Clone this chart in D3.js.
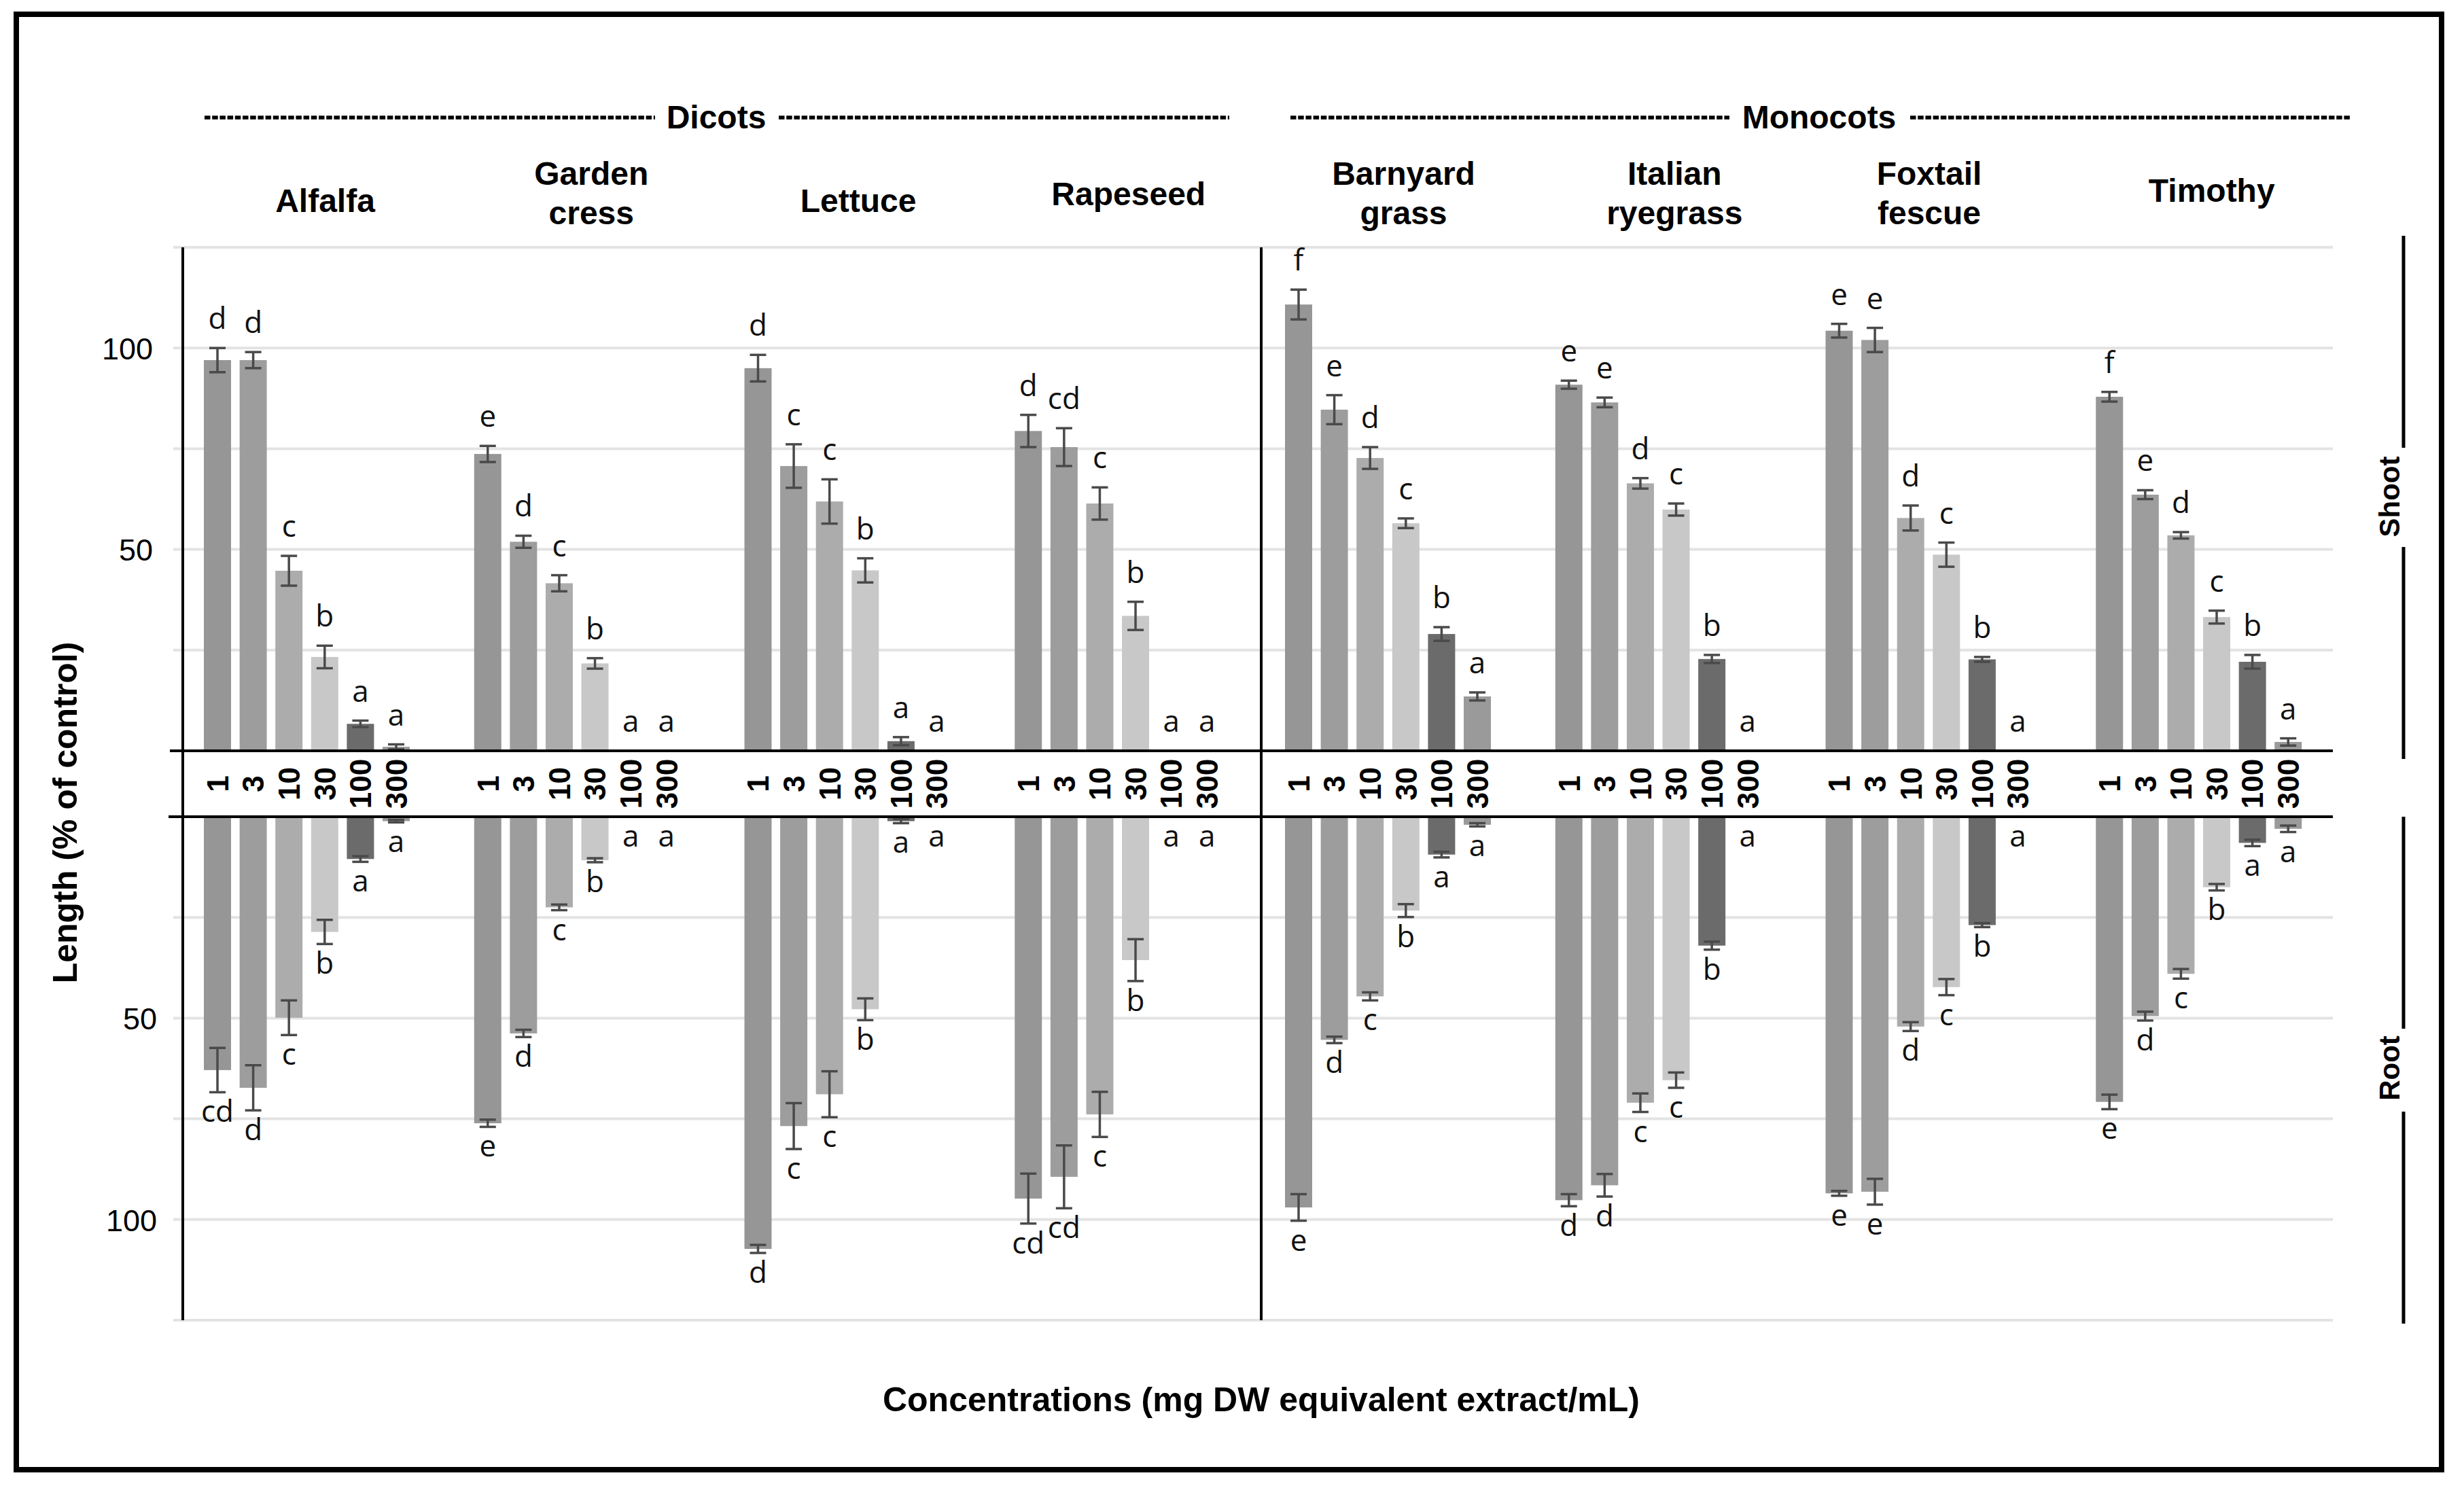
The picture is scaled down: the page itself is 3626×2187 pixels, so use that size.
<!DOCTYPE html>
<html>
<head>
<meta charset="utf-8">
<script src="https://cdn.jsdelivr.net/npm/d3@7/dist/d3.min.js"></script>
<style>
  html, body { margin: 0; padding: 0; background: #fff; }
  svg { display: block; }
</style>
</head>
<body>
<svg id="chart" width="3626" height="2187"></svg>
<script>
// ---------------- DATA ----------------
const species = ["Alfalfa", "Garden cress", "Lettuce", "Rapeseed",
                 "Barnyard grass", "Italian ryegrass", "Foxtail fescue", "Timothy"];
const speciesLines = [["Alfalfa"], ["Garden", "cress"], ["Lettuce"], ["Rapeseed"],
                      ["Barnyard", "grass"], ["Italian", "ryegrass"], ["Foxtail", "fescue"], ["Timothy"]];
const groups = ["Dicots", "Monocots"];
const concentrations = ["1", "3", "10", "30", "100", "300"];

const shootMean = [
  [97.0, 97.0, 44.7, 23.3, 6.7, 1.0],
  [73.7, 51.9, 41.6, 21.7, 0, 0],
  [95.0, 70.7, 61.9, 44.8, 2.4, 0],
  [79.4, 75.4, 61.4, 33.5, 0, 0],
  [110.8, 84.7, 72.7, 56.5, 29.0, 13.5],
  [90.9, 86.5, 66.4, 59.9, 22.8, 0],
  [104.3, 102.0, 57.8, 48.7, 22.7, 0],
  [87.9, 63.6, 53.5, 33.2, 22.1, 2.2]
];
const shootErr = [
  [3.0, 2.0, 3.7, 2.8, 0.8, 0.6],
  [2.0, 1.5, 2.0, 1.3, 0, 0],
  [3.3, 5.4, 5.5, 3.0, 1.0, 0],
  [4.0, 4.7, 4.0, 3.5, 0, 0],
  [3.7, 3.6, 2.7, 1.2, 1.7, 1.0],
  [1.0, 1.2, 1.3, 1.5, 1.0, 0],
  [1.7, 3.0, 3.1, 3.0, 0.6, 0],
  [1.2, 1.1, 0.8, 1.6, 1.7, 0.9]
];
const shootLetters = [
  ["d", "d", "c", "b", "a", "a"],
  ["e", "d", "c", "b", "a", "a"],
  ["d", "c", "c", "b", "a", "a"],
  ["d", "cd", "c", "b", "a", "a"],
  ["f", "e", "d", "c", "b", "a"],
  ["e", "e", "d", "c", "b", "a"],
  ["e", "e", "d", "c", "b", "a"],
  ["f", "e", "d", "c", "b", "a"]
];
const rootMean = [
  [62.9, 67.3, 49.9, 28.6, 10.5, 1.1],
  [76.1, 53.8, 22.5, 10.8, 0, 0],
  [107.3, 76.8, 68.9, 47.8, 1.1, 0],
  [94.8, 89.4, 73.9, 35.6, 0, 0],
  [97.0, 55.4, 44.6, 23.3, 9.4, 2.0],
  [95.2, 91.5, 71.0, 65.4, 32.0, 0],
  [93.5, 93.1, 52.1, 42.3, 26.9, 0],
  [70.8, 49.5, 39.0, 17.5, 6.5, 3.0]
];
const rootErr = [
  [5.5, 5.6, 4.3, 3.0, 0.7, 0.3],
  [0.9, 0.9, 0.7, 0.5, 0, 0],
  [1.0, 5.7, 5.7, 2.7, 0.5, 0],
  [6.2, 7.8, 5.6, 5.2, 0, 0],
  [3.3, 0.8, 1.0, 1.6, 0.7, 0.4],
  [1.5, 2.8, 2.3, 1.9, 1.0, 0],
  [0.6, 3.2, 1.1, 2.0, 0.5, 0],
  [1.8, 1.1, 1.2, 0.8, 0.8, 0.8]
];
const rootLetters = [
  ["cd", "d", "c", "b", "a", "a"],
  ["e", "d", "c", "b", "a", "a"],
  ["d", "c", "c", "b", "a", "a"],
  ["cd", "cd", "c", "b", "a", "a"],
  ["e", "d", "c", "b", "a", "a"],
  ["d", "d", "c", "c", "b", "a"],
  ["e", "e", "d", "c", "b", "a"],
  ["e", "d", "c", "b", "a", "a"]
];
const gridTicks = [25, 50, 75, 100, 125];
const labelTicks = [50, 100];

// ---------------- LAYOUT ----------------
const W = 3626, H = 2187;
const svg = d3.select("#chart").attr("viewBox", `0 0 ${W} ${H}`);
svg.append("rect").attr("width", W).attr("height", H).attr("fill", "#fff");

const barColors = ["#969696", "#9d9d9d", "#acacac", "#c8c8c8", "#6b6b6b", "#9a9a9a"];
const errColor = "#4a4a4a";
const SANS = "'Liberation Sans', Arial, sans-serif";
const LETTER_FONT = "'Open Sans', 'Noto Sans', sans-serif";

const gx = d3.scaleBand().domain(species).range([270, 270 + 8 * 397.75]);
const bx = d3.scaleBand().domain(concentrations).range([23.7, 339.3])
  .paddingInner(0.24).paddingOuter(0.12);
const yShoot = d3.scaleLinear().domain([0, 125]).range([1105, 364]);
const yRoot = d3.scaleLinear().domain([0, 125]).range([1202, 1943]);

const gridX0 = 255, gridX1 = 3433;
const axisX = 269;

// frame
svg.append("rect").attr("x", 24).attr("y", 21).attr("width", 3569).attr("height", 2142)
  .attr("fill", "none").attr("stroke", "#000").attr("stroke-width", 8);

// gridlines
const grid = svg.append("g");
[yShoot, yRoot].forEach(y => {
  grid.selectAll(null).data(gridTicks).enter().append("line")
    .attr("x1", gridX0).attr("x2", gridX1)
    .attr("y1", d => y(d)).attr("y2", d => y(d))
    .attr("stroke", "#e3e3e3").attr("stroke-width", 4);
});

// bars
const flat = [];
species.forEach((s, i) => concentrations.forEach((c, j) => {
  flat.push({ s, c, i, j,
    sm: shootMean[i][j], se: shootErr[i][j], sl: shootLetters[i][j],
    rm: rootMean[i][j], re: rootErr[i][j], rl: rootLetters[i][j] });
}));
const cx = d => gx(d.s) + bx(d.c) + bx.bandwidth() / 2;

const bars = svg.append("g");
bars.selectAll(".sbar").data(flat).enter().append("rect")
  .attr("x", d => gx(d.s) + bx(d.c)).attr("width", bx.bandwidth())
  .attr("y", d => yShoot(d.sm)).attr("height", d => yShoot(0) - yShoot(d.sm))
  .attr("fill", d => barColors[d.j]);
bars.selectAll(".rbar").data(flat).enter().append("rect")
  .attr("x", d => gx(d.s) + bx(d.c)).attr("width", bx.bandwidth())
  .attr("y", yRoot(0)).attr("height", d => yRoot(d.rm) - yRoot(0))
  .attr("fill", d => barColors[d.j]);

// error bars
const eb = svg.append("g").attr("stroke", errColor).attr("stroke-width", 3.5);
const capW = 12;
flat.filter(d => d.se > 0).forEach(d => {
  const x = cx(d), y1 = yShoot(d.sm + d.se), y2 = yShoot(d.sm - d.se);
  eb.append("line").attr("x1", x).attr("x2", x).attr("y1", y1).attr("y2", y2);
  eb.append("line").attr("x1", x - capW).attr("x2", x + capW).attr("y1", y1).attr("y2", y1);
  eb.append("line").attr("x1", x - capW).attr("x2", x + capW).attr("y1", y2).attr("y2", y2);
});
flat.filter(d => d.re > 0).forEach(d => {
  const x = cx(d), y1 = yRoot(d.rm - d.re), y2 = yRoot(d.rm + d.re);
  eb.append("line").attr("x1", x).attr("x2", x).attr("y1", y1).attr("y2", y2);
  eb.append("line").attr("x1", x - capW).attr("x2", x + capW).attr("y1", y1).attr("y2", y1);
  eb.append("line").attr("x1", x - capW).attr("x2", x + capW).attr("y1", y2).attr("y2", y2);
});

// significance letters
const lt = svg.append("g").attr("font-family", LETTER_FONT).attr("font-size", 44)
  .attr("fill", "#111").attr("text-anchor", "middle");
lt.selectAll(".sl").data(flat).enter().append("text")
  .attr("x", cx).attr("y", d => yShoot(d.sm + d.se) - 28).text(d => d.sl);
lt.selectAll(".rl").data(flat).enter().append("text")
  .attr("x", cx).attr("y", d => yRoot(d.rm + d.re) + 44).text(d => d.rl);

// baselines
svg.append("line").attr("x1", 250).attr("x2", gridX1).attr("y1", yShoot(0)).attr("y2", yShoot(0))
  .attr("stroke", "#000").attr("stroke-width", 4);
svg.append("line").attr("x1", 248).attr("x2", gridX1).attr("y1", yRoot(0)).attr("y2", yRoot(0))
  .attr("stroke", "#000").attr("stroke-width", 4);

// y axis line and divider
svg.append("line").attr("x1", axisX).attr("x2", axisX).attr("y1", yShoot(125)).attr("y2", yRoot(125))
  .attr("stroke", "#000").attr("stroke-width", 4);
const divX = gx("Barnyard grass") - 5;
svg.append("line").attr("x1", divX).attr("x2", divX).attr("y1", yShoot(125)).attr("y2", yRoot(125))
  .attr("stroke", "#000").attr("stroke-width", 4);

// concentration labels between baselines
const midY = (yShoot(0) + yRoot(0)) / 2;
svg.append("g").selectAll("text").data(flat).enter().append("text")
  .attr("transform", d => `translate(${cx(d)},${midY}) rotate(-90)`)
  .attr("dy", "0.36em").attr("text-anchor", "middle")
  .attr("font-family", SANS).attr("font-weight", "bold").attr("font-size", 44)
  .attr("fill", "#000").text(d => d.c);

// y tick labels
const shootAxis = svg.append("g").attr("transform", `translate(${axisX},0)`)
  .call(d3.axisLeft(yShoot).tickValues(labelTicks).tickSize(0).tickPadding(44));
const rootAxis = svg.append("g").attr("transform", `translate(${axisX},0)`)
  .call(d3.axisLeft(yRoot).tickValues(labelTicks).tickSize(0).tickPadding(38));
[shootAxis, rootAxis].forEach(a => {
  a.select(".domain").remove();
  a.selectAll("text").attr("font-family", SANS).attr("font-size", 45).attr("fill", "#000")
    .attr("dy", "0.36em");
});

// species labels (hand-placed offsets from group centre, as in the original figure)
const labelDx = [27, 21, 16, 16, 23, 24, 1, 19];
const singleY = [312, 0, 312, 302, 0, 0, 0, 297];
const sp = svg.append("g").attr("font-family", SANS).attr("font-weight", "bold")
  .attr("font-size", 48).attr("text-anchor", "middle").attr("fill", "#000");
species.forEach((s, i) => {
  const x0 = gx(s) + bx(concentrations[0]);
  const x1 = gx(s) + bx(concentrations[5]) + bx.bandwidth();
  const x = (x0 + x1) / 2 + labelDx[i];
  const lines = speciesLines[i];
  if (lines.length === 1) {
    sp.append("text").attr("x", x).attr("y", singleY[i]).text(lines[0]);
  } else {
    sp.append("text").attr("x", x).attr("y", 272).text(lines[0]);
    sp.append("text").attr("x", x).attr("y", 330).text(lines[1]);
  }
});

// group headers with dashed rules
const headers = [
  { name: groups[0], cx: 1054, l0: 301, l1: 964, r0: 1146, r1: 1809 },
  { name: groups[1], cx: 2677, l0: 1899, l1: 2545, r0: 2811, r1: 3459 }
];
headers.forEach(h => {
  svg.append("text").attr("x", h.cx).attr("y", 189).attr("text-anchor", "middle")
    .attr("font-family", SANS).attr("font-weight", "bold").attr("font-size", 48).text(h.name);
  [[h.l0, h.l1], [h.r0, h.r1]].forEach(([a, b]) => {
    svg.append("line").attr("x1", a).attr("x2", b).attr("y1", 173).attr("y2", 173)
      .attr("stroke", "#000").attr("stroke-width", 5.5).attr("stroke-dasharray", "8.5 2.7");
  });
});

// axis titles
svg.append("text").attr("transform", "translate(113,1196) rotate(-90)")
  .attr("text-anchor", "middle").attr("font-family", SANS).attr("font-weight", "bold")
  .attr("font-size", 50).text("Length (% of control)");
svg.append("text").attr("x", 1856).attr("y", 2077).attr("text-anchor", "middle")
  .attr("font-family", SANS).attr("font-weight", "bold").attr("font-size", 50)
  .text("Concentrations (mg DW equivalent extract/mL)");

// right-side Shoot / Root brackets
const brX = 3537;
[[347, 659], [805, 1117], [1202, 1514], [1636, 1948]].forEach(([a, b]) => {
  svg.append("line").attr("x1", brX).attr("x2", brX).attr("y1", a).attr("y2", b)
    .attr("stroke", "#000").attr("stroke-width", 5);
});
[["Shoot", 731], ["Root", 1572]].forEach(([t, y]) => {
  svg.append("text").attr("transform", `translate(${brX - 6},${y}) rotate(-90)`)
    .attr("text-anchor", "middle").attr("font-family", SANS).attr("font-weight", "bold")
    .attr("font-size", 42).text(t);
});
</script>
</body>
</html>
